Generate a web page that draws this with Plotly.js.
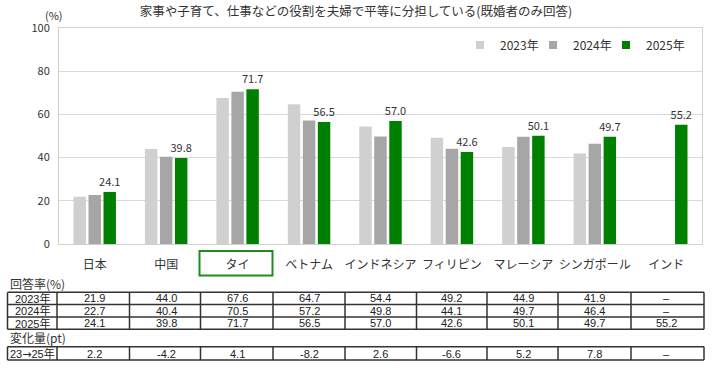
<!DOCTYPE html>
<html>
<head>
<meta charset="utf-8">
<script src="https://cdn.plot.ly/plotly-3.0.1.min.js"></script>
<style>html,body{margin:0;padding:0;background:#fff;}#chart{width:712px;height:371px;}</style>
</head>
<body>
<div id="chart"></div>
<script>
// ---- data ----
const categories = ['日本','中国','タイ','ベトナム','インドネシア','フィリピン','マレーシア','シンガポール','インド'];
const years = ['2023年','2024年','2025年'];
const v2023 = [21.9, 44.0, 67.6, 64.7, 54.4, 49.2, 44.9, 41.9, null];
const v2024 = [22.7, 40.4, 70.5, 57.2, 49.8, 44.1, 49.7, 46.4, null];
const v2025 = [24.1, 39.8, 71.7, 56.5, 57.0, 42.6, 50.1, 49.7, 55.2];
const change2325 = [2.2, -4.2, 4.1, -8.2, 2.6, -6.6, 5.2, 7.8, null];
const changeLabel = '23<span style="font-family:DejaVu Sans">→</span>25年';
const yTicks = [0, 20, 40, 60, 80, 100];
const titleText = '家事や子育て、仕事などの役割を夫婦で平等に分担している(既婚者のみ回答)';

// ---- styles ----
const colors = ['#d0d0d0', '#a6a6a6', '#008000'];
const FONT = 'Noto Sans CJK JP, Noto Sans, sans-serif';
const TFONT = 'Liberation Sans, Noto Sans CJK JP, sans-serif';
const W = 712, H = 371, ML = 59, MR = 10, MT = 28, MB = 127;
const PW = W - ML - MR, PH = H - MT - MB;
const px = X => (X - ML) / PW;
const py = Y => (MT + PH - Y) / PH;

const series = [v2023, v2024, v2025];
const fmt = v => (v === null || v === undefined) ? '–' : v.toFixed(1);

const traces = series.map((vals, i) => ({
  type: 'bar', x: categories, y: vals, name: years[i],
  marker: {color: colors[i], line: {width: 0}},
  showlegend: false,
  text: i === 2 ? vals.map(fmt) : undefined,
  textposition: i === 2 ? 'outside' : 'none',
  textfont: {family: FONT, size: 11, color: '#333'},
  constraintext: 'none',
  cliponaxis: false,
  hoverinfo: 'x+y'
}));
// legend entries
years.forEach((yr, i) => traces.push({
  type: 'scatter', mode: 'markers', x: [null], y: [null], name: yr,
  marker: {symbol: 'square', size: 8, color: colors[i]}, showlegend: true,
  legendwidth: i < 2 ? 28 : 0
}));

const annotations = [];
const shapes = [];
annotations.push({xref:'paper', yref:'paper', x: px(53.5), y: py(15), text:'(%)', showarrow:false,
  font:{family:FONT, size:11, color:'#333'}, xanchor:'center', yanchor:'middle'});

// table
const TF = 11;
const rowY = [298.2, 310.6, 323.0];
const chgY = 353.6;
const labelX = px(32.3);
annotations.push({xref:'paper', yref:'paper', x: px(8), y: py(283.3), text:'回答率(%)', showarrow:false,
  font:{family:FONT, size:12, color:'#333'}, xanchor:'left', yanchor:'middle'});
annotations.push({xref:'paper', yref:'paper', x: px(8), y: py(337.6), text:'変化量(pt)', showarrow:false,
  font:{family:FONT, size:12, color:'#333'}, xanchor:'left', yanchor:'middle'});
series.forEach((vals, r) => {
  annotations.push({xref:'paper', yref:'paper', x: labelX, y: py(rowY[r]), text: years[r], showarrow:false,
    font:{family:TFONT, size:TF, color:'#222'}, xanchor:'center', yanchor:'middle'});
  vals.forEach((v, c) => annotations.push({xref:'x', yref:'paper', x: categories[c], y: py(rowY[r]), text: fmt(v),
    showarrow:false, font:{family:TFONT, size:TF, color:'#222'}, xanchor:'center', yanchor:'middle'}));
});
annotations.push({xref:'paper', yref:'paper', x: labelX, y: py(chgY), text: changeLabel, showarrow:false,
  font:{family:TFONT, size:TF, color:'#222'}, xanchor:'center', yanchor:'middle'});
change2325.forEach((v, c) => annotations.push({xref:'x', yref:'paper', x: categories[c], y: py(chgY), text: fmt(v),
  showarrow:false, font:{family:TFONT, size:TF, color:'#222'}, xanchor:'center', yanchor:'middle'}));

const colEdges = [7.5, 57, 129.5, 200.5, 273, 345, 416.5, 487, 558, 631, 704];
const lineStyle = {color:'#333', width:1.5};
function hline(Y){ shapes.push({type:'line', xref:'paper', yref:'paper', x0:px(colEdges[0]), x1:px(colEdges[colEdges.length-1]), y0:py(Y), y1:py(Y), line:lineStyle}); }
function vlines(Y0, Y1){ colEdges.forEach(X => shapes.push({type:'line', xref:'paper', yref:'paper', x0:px(X), x1:px(X), y0:py(Y0), y1:py(Y1), line:lineStyle})); }
[292.3, 304.5, 317, 329.3].forEach(hline);
vlines(292.3, 329.3);
[346.7, 360].forEach(hline);
vlines(346.7, 360);

// highlight box around Thailand label
shapes.push({type:'rect', xref:'paper', yref:'paper', x0:px(199.5), x1:px(272.5), y0:py(251), y1:py(275.5),
  line:{color:'#1e8c1e', width:2}, fillcolor:'rgba(0,0,0,0)'});

const layout = {
  width: W, height: H,
  margin: {l: ML, r: MR, t: MT, b: MB, pad: 0},
  paper_bgcolor: '#fff', plot_bgcolor: '#fff',
  font: {family: FONT, size: 12, color: '#333'},
  title: {text: titleText, x: 0.5, xref: 'container', xanchor: 'center', y: 1 - 12/H, yref: 'container', yanchor: 'middle',
    font: {family: FONT, size: 12.5, color: '#333'}},
  barmode: 'group', bargap: 0.37, bargroupgap: 0.17,
  xaxis: {type: 'category', categoryorder: 'array', categoryarray: categories,
    showgrid: false, showline: true, linecolor: '#d0d0d0', linewidth: 1, mirror: true,
    ticks: '', ticklabelstandoff: 10, tickfont: {family: FONT, size: 12, color: '#333'}, fixedrange: true},
  yaxis: {range: [0, 100], tickvals: yTicks, showgrid: true, gridcolor: '#d9d9d9', gridwidth: 1,
    showline: true, linecolor: '#d0d0d0', linewidth: 1, mirror: true, zeroline: false,
    ticks: '', ticklabelstandoff: 6, tickfont: {family: FONT, size: 11, color: '#333'}, fixedrange: true},
  legend: {orientation: 'h', x: px(690), xanchor: 'right', y: py(45), yanchor: 'middle',
    font: {family: FONT, size: 12, color: '#333'}, bgcolor: 'rgba(0,0,0,0)', itemwidth: 30, tracegroupgap: 0},
  annotations: annotations,
  shapes: shapes,
  showlegend: true
};

Plotly.newPlot('chart', traces, layout, {displayModeBar: false, staticPlot: true});
</script>
</body>
</html>
